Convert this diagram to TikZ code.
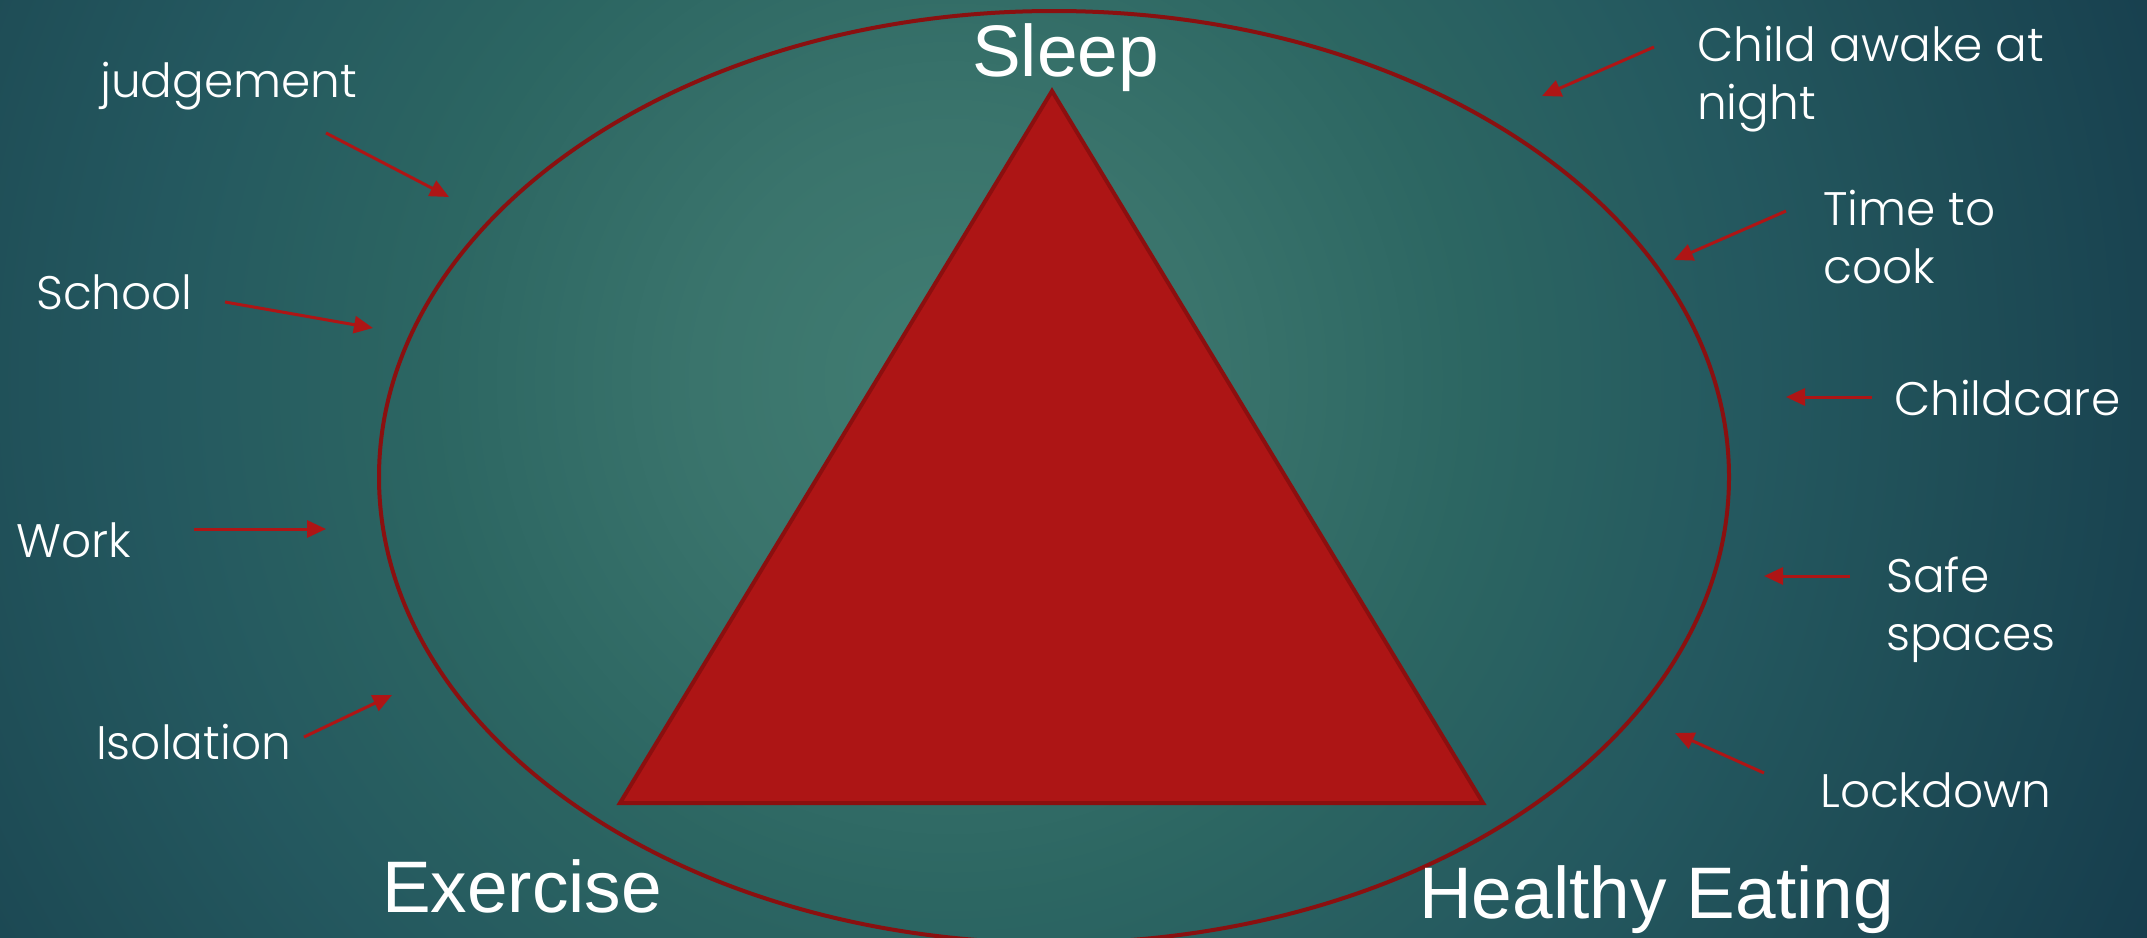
\documentclass[tikz,border=0pt]{standalone}
\usepackage{fontspec}
\setmainfont{Poppins}[UprightFont={* Light}]
\newfontfamily\arialf{Liberation Sans}
\usetikzlibrary{arrows.meta}
\definecolor{arrowred}{HTML}{AE1515}
\definecolor{ringred}{HTML}{8A1010}
\definecolor{trifill}{HTML}{AD1515}
\definecolor{triline}{HTML}{8B0F0F}
\definecolor{bgA}{HTML}{417D72}
\definecolor{bgB}{HTML}{3A746C}
\definecolor{bgC}{HTML}{2C6662}
\definecolor{bgD}{HTML}{24585F}
\definecolor{bgE}{HTML}{1F4E57}
\definecolor{bgF}{HTML}{163D4D}
% the central 50bp square of a shading is fitted to the path: radius 1400 <-> 25bp
\pgfdeclareradialshading{bgshade}{\pgfpoint{0bp}{0bp}}{%
  color(0bp)=(bgA); color(4.5bp)=(bgB); color(9.3bp)=(bgC);
  color(14.3bp)=(bgD); color(17.9bp)=(bgE); color(23.6bp)=(bgF); color(50bp)=(bgF)}
\tikzset{
  lab/.style={text=white, inner sep=0pt, font=\fontsize{47pt}{58pt}\selectfont},
  biglab/.style={text=white, inner sep=0pt, font=\arialf\fontsize{73pt}{80pt}\selectfont},
  arr/.style={draw=arrowred, line width=3pt, -{Triangle[length=19pt,width=17pt]}},
}
\begin{document}
\begin{tikzpicture}[x=1pt,y=-1pt]
\useasboundingbox (0,0) rectangle (2147,937);
\clip (0,0) rectangle (2147,937);
\fill[bgF] (0,0) rectangle (2147,937);
\shade[shading=bgshade] (950,380) circle [radius=1400];

% ring
\draw[ringred, line width=4pt] (1054,477) ellipse [x radius=675, y radius=466];

% triangle
\coordinate (apex) at (1052,91);
\coordinate (bl) at (620,803);
\coordinate (br) at (1483,803);
\draw[fill=trifill, draw=triline, line width=4pt, line join=miter] (apex) -- (bl) -- (br) -- cycle;

% big labels
\node[biglab, anchor=base west] (sleep) at (972,76) {Sleep};
\node[biglab, anchor=base west] (exercise) at (382,912) {Exercise};
\node[biglab, anchor=base west] (eating) at (1419,918) {Healthy Eating};

% left labels
\node[lab, anchor=base west] (judgement) at (100,97) {judgement};
\node[lab, anchor=base west] (school) at (36,309) {School};
\node[lab, anchor=base west] (work) at (16,557) {Work};
\node[lab, anchor=base west] (isolation) at (96,759) {Isolation};

% right labels
\node[lab, anchor=north west, align=left] (child) at (1697,26) {Child awake at\\night};
\node[lab, anchor=north west, align=left] (cook) at (1823,190) {Time to\\cook};
\node[lab, anchor=base west] (childcare) at (1894,415) {Childcare};
\node[lab, anchor=north west, align=left] (safe) at (1886,557) {Safe\\spaces};
\node[lab, anchor=base west] (lockdown) at (1820,807) {Lockdown};

% arrow end points
\coordinate (j1) at (326,133);  \coordinate (j2) at (449,197);
\coordinate (s1) at (225,302);  \coordinate (s2) at (373,328);
\coordinate (w1) at (194,529);  \coordinate (w2) at (326,529);
\coordinate (i1) at (304,737);  \coordinate (i2) at (392,695);
\coordinate (c1) at (1654,47);  \coordinate (c2) at (1542,96);
\coordinate (t1) at (1786,211); \coordinate (t2) at (1674,260);
\coordinate (k1) at (1872,397); \coordinate (k2) at (1786,397);
\coordinate (f1) at (1850,576); \coordinate (f2) at (1764,576);
\coordinate (l1) at (1764,773); \coordinate (l2) at (1675,733);

\draw[arr] (j1) -- (j2);
\draw[arr] (s1) -- (s2);
\draw[arr] (w1) -- (w2);
\draw[arr] (i1) -- (i2);
\draw[arr] (c1) -- (c2);
\draw[arr] (t1) -- (t2);
\draw[arr] (k1) -- (k2);
\draw[arr] (f1) -- (f2);
\draw[arr] (l1) -- (l2);
\end{tikzpicture}
\end{document}
